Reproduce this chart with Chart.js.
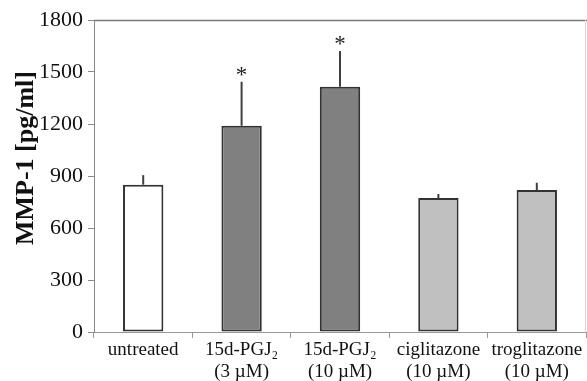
<!DOCTYPE html>
<html>
<head>
<meta charset="utf-8">
<script src="https://cdn.jsdelivr.net/npm/chart.js@4"></script>
<style>
html,body{margin:0;padding:0;background:#fff;}
#wrap{width:587px;height:381px;position:relative;}
</style>
</head>
<body>
<div id="wrap"><canvas id="c" width="587" height="381"></canvas></div>
<script>
const categories = [
  ['untreated'],
  ['15d-PGJ\u2082', '(3 \u00b5M)'],
  ['15d-PGJ\u2082', '(10 \u00b5M)'],
  ['ciglitazone', '(10 \u00b5M)'],
  ['troglitazone', '(10 \u00b5M)']
];
const mmp1Values = [850, 1190, 1415, 773, 819];
const mmp1Errors = [55, 254, 206, 23, 42];
const significance = ['', '*', '*', '', ''];
const yTicks = [0, 300, 600, 900, 1200, 1500, 1800];
const barColors = ['#ffffff', '#808080', '#808080', '#c0c0c0', '#c0c0c0'];
const yTitle = 'MMP-1 [pg/ml]';

const serif = '"Liberation Serif", "Times New Roman", serif';

const extrasPlugin = {
  id: 'extras',
  afterDatasetsDraw(chart) {
    const ctx = chart.ctx;
    const meta = chart.getDatasetMeta(0);
    const y = chart.scales.y;
    ctx.save();
    meta.data.forEach((bar, i) => {
      const top = y.getPixelForValue(mmp1Values[i] + mmp1Errors[i]);
      ctx.strokeStyle = '#404040';
      ctx.lineWidth = 2;
      ctx.beginPath();
      ctx.moveTo(bar.x, bar.y);
      ctx.lineTo(bar.x, top);
      ctx.stroke();
      if (significance[i]) {
        ctx.fillStyle = '#222';
        ctx.font = '23px ' + serif;
        ctx.textAlign = 'center';
        ctx.textBaseline = 'middle';
        ctx.fillText(significance[i], bar.x, top - 6);
      }
    });
    ctx.restore();
  },
  beforeDatasetsDraw(chart) {
    const {ctx, chartArea} = chart;
    ctx.save();
    ctx.strokeStyle = '#7a7a7a';
    ctx.lineWidth = 1.5;
    ctx.beginPath();
    ctx.moveTo(chartArea.left, chartArea.top + 0.5);
    ctx.lineTo(chartArea.right + 2, chartArea.top + 0.5);
    ctx.stroke();
    ctx.strokeStyle = '#d8d8d8';
    ctx.lineWidth = 1;
    ctx.beginPath();
    ctx.moveTo(chartArea.right - 0.5, chartArea.top);
    ctx.lineTo(chartArea.right - 0.5, chartArea.bottom);
    ctx.stroke();
    // y-axis title
    ctx.translate(26, 158);
    ctx.rotate(-Math.PI / 2);
    ctx.fillStyle = '#111';
    ctx.font = 'bold 26px ' + serif;
    ctx.textAlign = 'center';
    ctx.textBaseline = 'middle';
    ctx.fillText(yTitle, 0, 0);
    ctx.restore();
  }
};

new Chart(document.getElementById('c'), {
  type: 'bar',
  data: {
    labels: categories,
    datasets: [{
      data: mmp1Values,
      backgroundColor: barColors,
      borderColor: '#333333',
      borderWidth: 2,
      borderSkipped: false,
      categoryPercentage: 1.0,
      barPercentage: 0.41
    }]
  },
  options: {
    responsive: false,
    animation: false,
    devicePixelRatio: 1,
    layout: { padding: { top: 20, right: 1, left: 0, bottom: 0 } },
    plugins: { legend: { display: false }, tooltip: { enabled: false } },
    scales: {
      x: {
        offset: true,
        grid: { offset: true, drawOnChartArea: false, drawTicks: true, tickLength: 6, color: '#9a9a9a' },
        border: { display: true, color: '#9a9a9a', width: 1 },
        ticks: { color: '#111', font: { family: serif, size: 19, lineHeight: 1.15 }, padding: 1, maxRotation: 0, autoSkip: false },
        afterFit(scale) { scale.height = 49; }
      },
      y: {
        min: 0, max: 1800,
        afterBuildTicks(scale) { scale.ticks = yTicks.map(v => ({ value: v })); },
        grid: { drawOnChartArea: false, drawTicks: true, tickLength: 6, color: '#8a8a8a' },
        border: { display: true, color: '#8a8a8a', width: 1 },
        ticks: { color: '#111', font: { family: serif, size: 22 }, padding: 5, callback: v => String(v) },
        title: { display: false },
        afterFit(scale) { scale.width = 94; }
      }
    }
  },
  plugins: [extrasPlugin]
});
</script>
</body>
</html>
